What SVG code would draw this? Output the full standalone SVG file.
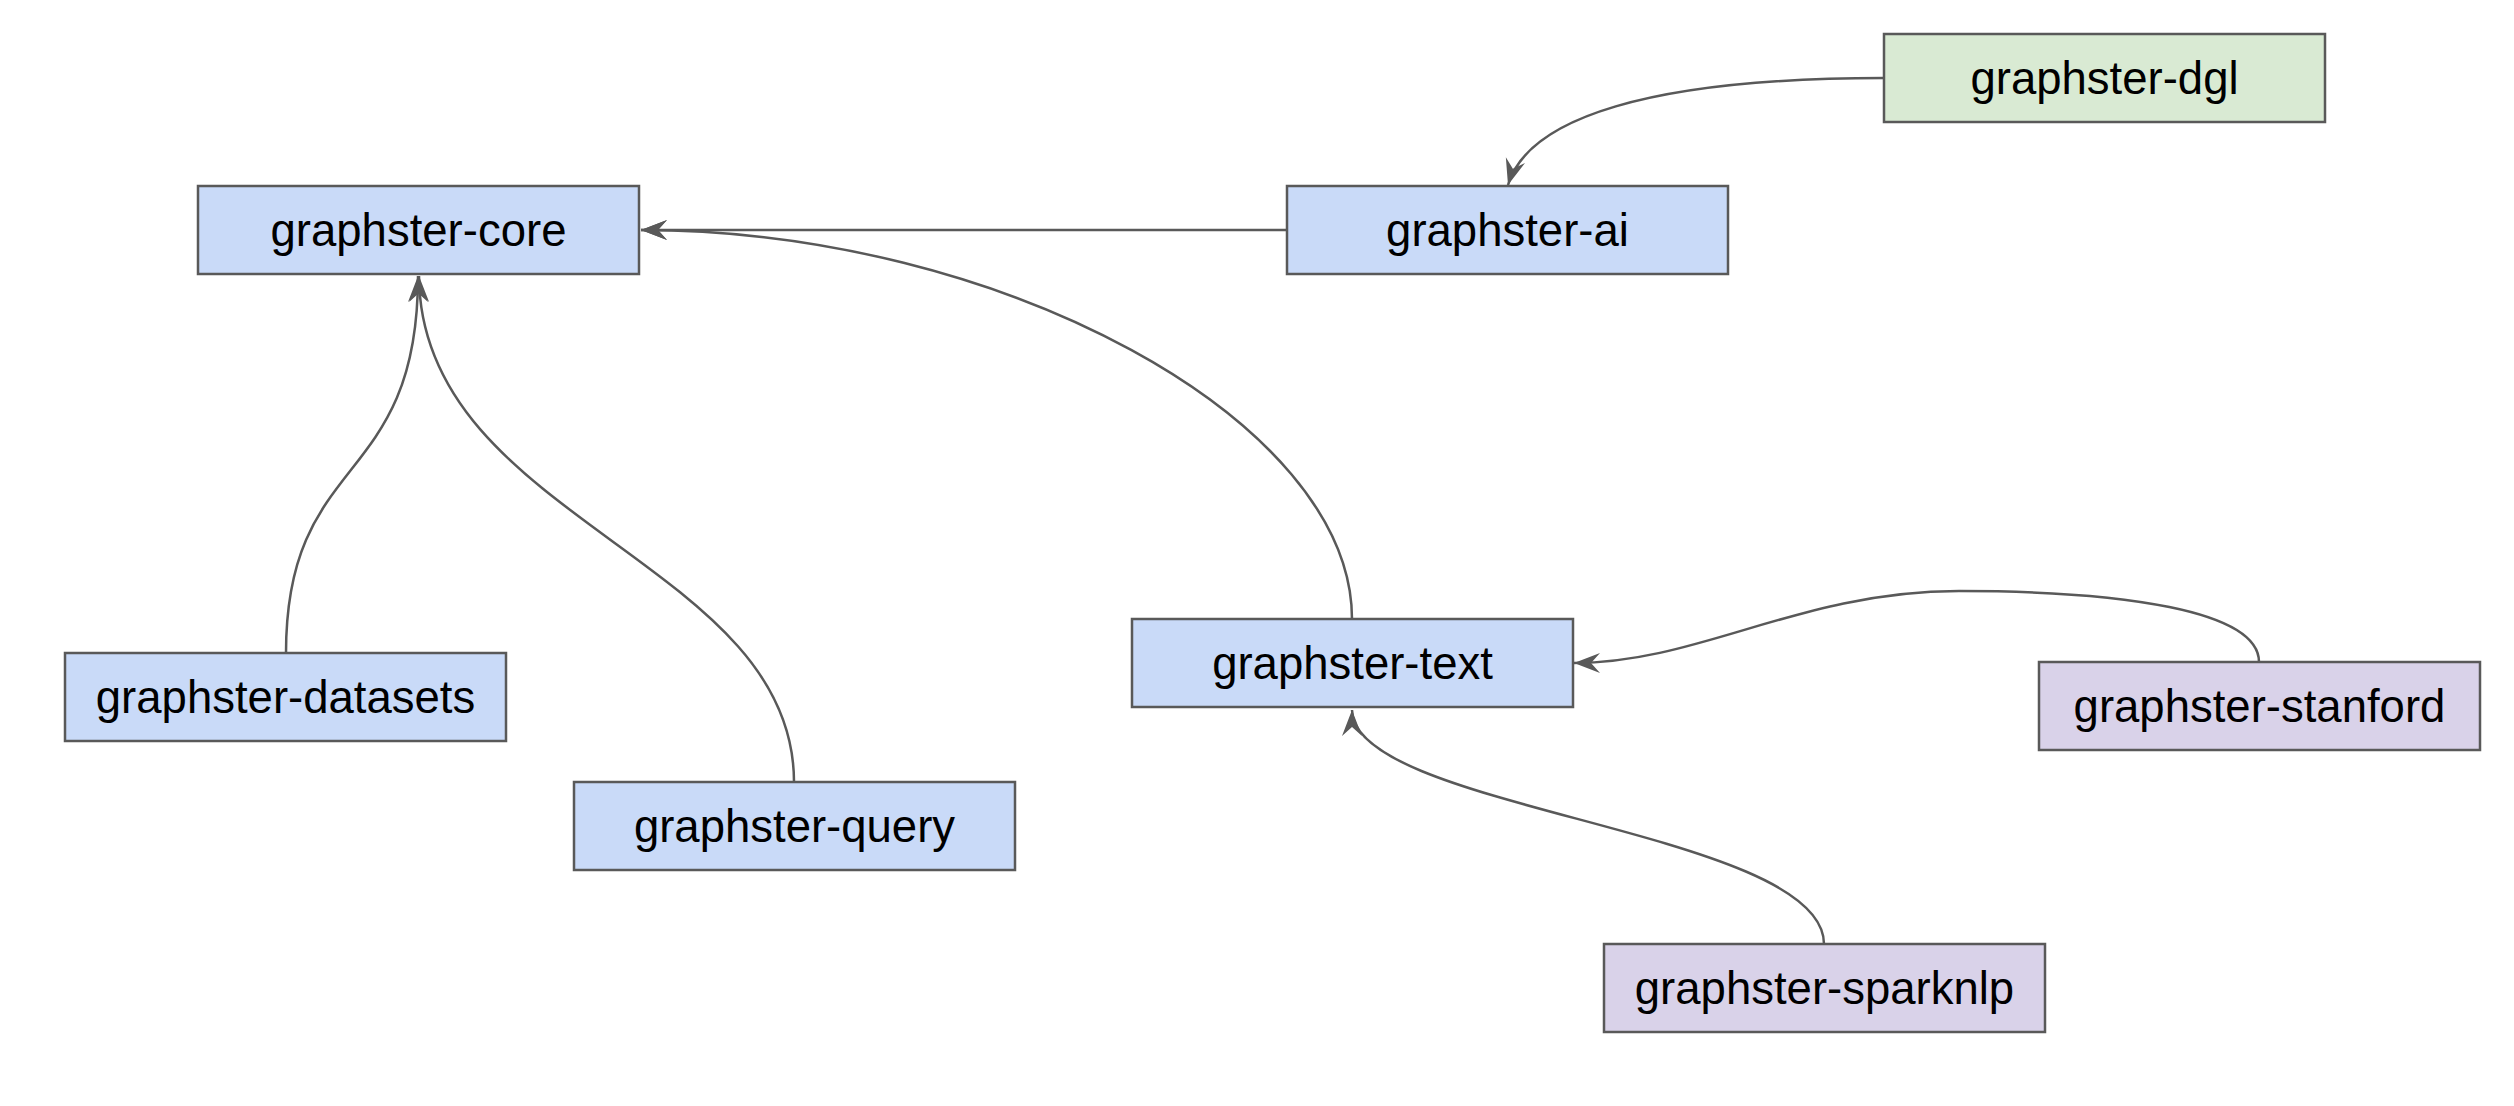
<svg xmlns="http://www.w3.org/2000/svg" width="2514" height="1106" viewBox="0 0 2514 1106">
<style>
  .box { stroke: #595959; stroke-width: 2.5; }
  .blue { fill: #c9daf8; }
  .green { fill: #d9ead3; }
  .purple { fill: #d9d2e9; }
  .label { font-family: "Liberation Sans", Arial, sans-serif; font-size: 45.5px; fill: #000000; text-anchor: middle; }
  .edge { fill: none; stroke: #595959; stroke-width: 2.5; marker-end: url(#arrow); }
</style>
<defs>
  <marker id="arrow" markerUnits="userSpaceOnUse" viewBox="-28 -12 30 24" refX="0" refY="0" markerWidth="30" markerHeight="24" orient="auto">
    <path d="M0,0 L-26,-10 L-17,0 L-26,10 Z" fill="#595959"/>
  </marker>
</defs>
<rect width="2514" height="1106" fill="#ffffff"/>
<g id="connectors">
  <path class="edge" d="M1287,230 L641,230"/>
  <path class="edge" d="M1884,78 C1650,78 1528,118 1508,185"/>
  <path class="edge" d="M1352,619 C1352,420 1000,230 641,230"/>
  <path class="edge" d="M286,653 C286,450 418,490 418,276"/>
  <path class="edge" d="M794,782 C794,560 420,520 419,276"/>
  <path class="edge" d="M2259,662 C2259,610 2120,591 1959,591 C1800,591 1700,663 1574,663"/>
  <path class="edge" d="M1824,944 C1824,830 1352,810 1352,710"/>
</g>
<g id="node-core">
  <rect class="box blue" x="198" y="186" width="441" height="88"/>
  <text class="label" x="418.5" y="246">graphster-core</text>
</g>
<g id="node-ai">
  <rect class="box blue" x="1287" y="186" width="441" height="88"/>
  <text class="label" x="1507.5" y="246">graphster-ai</text>
</g>
<g id="node-dgl">
  <rect class="box green" x="1884" y="34" width="441" height="88"/>
  <text class="label" x="2104.5" y="94">graphster-dgl</text>
</g>
<g id="node-datasets">
  <rect class="box blue" x="65" y="653" width="441" height="88"/>
  <text class="label" x="285.5" y="713">graphster-datasets</text>
</g>
<g id="node-query">
  <rect class="box blue" x="574" y="782" width="441" height="88"/>
  <text class="label" x="794.5" y="842">graphster-query</text>
</g>
<g id="node-text">
  <rect class="box blue" x="1132" y="619" width="441" height="88"/>
  <text class="label" x="1352.5" y="679">graphster-text</text>
</g>
<g id="node-stanford">
  <rect class="box purple" x="2039" y="662" width="441" height="88"/>
  <text class="label" x="2259.5" y="722">graphster-stanford</text>
</g>
<g id="node-sparknlp">
  <rect class="box purple" x="1604" y="944" width="441" height="88"/>
  <text class="label" x="1824.5" y="1004">graphster-sparknlp</text>
</g>
</svg>
